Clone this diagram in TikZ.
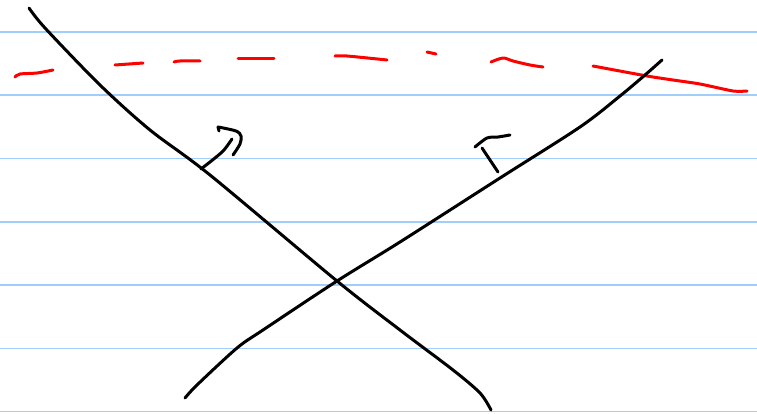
\documentclass[tikz,border=0pt]{standalone}
\begin{document}
\begin{tikzpicture}[x=1pt,y=-1pt,
  ruled/.style={draw={rgb,255:red,160;green,205;blue,250},line width=1.5pt},
  ink/.style={draw=black,line width=3pt,line cap=round,line join=round},
  redink/.style={draw=red,line width=3pt,line cap=round,line join=round}]
\useasboundingbox[fill=white] (0,0) rectangle (757,414);
% ruled paper
\foreach \yy in {32,95,158.5,222,285,348.5,411.5}
  \draw[ruled] (0,\yy) -- (757,\yy);
% red dashed horizon
\draw[redink] plot[smooth] coordinates {(15,77) (20,74) (37,73) (53,70)};
\draw[redink] (115,65) -- (143,63);
\draw[redink] plot[smooth] coordinates {(174,62) (180,61) (200,61)};
\draw[redink] (238,59) -- (274,59);
\draw[redink] plot[smooth] coordinates {(335,56) (347,56) (387,60)};
\draw[redink] (427,52) -- (436,54);
\draw[redink] plot[smooth] coordinates {(491,62) (503,58) (513,61) (530,65) (543,67)};
\draw[redink] plot[smooth,tension=0.4] coordinates {(593,66) (647,76) (673,80) (700,84) (733,91) (747,91)};
% black crossing lines
\draw[ink] plot[smooth,tension=0.5] coordinates {(29,8) (45,28) (100,85) (150,130) (210,175) (337,281) (400,330) (453,370) (480,393) (491,410)};
\draw[ink] plot[smooth,tension=0.5] coordinates {(185,398) (197,385) (237,348) (263,330) (337,281) (400,242) (500,178) (580,127) (620,96) (645,75) (662,60)};
% left arrow
\draw[ink] plot[smooth] coordinates {(201,169) (215,158) (224,150) (232,139)};
\draw[ink] plot[smooth] coordinates {(233,155) (240,144) (241,136) (236,131) (218,127)};
\draw[ink] (218,127) -- (219,131);
% right arrow
\draw[ink] (498,172) -- (482,148);
\draw[ink] plot[smooth] coordinates {(475,147) (487,138) (498,137) (510,135)};
\end{tikzpicture}
\end{document}
